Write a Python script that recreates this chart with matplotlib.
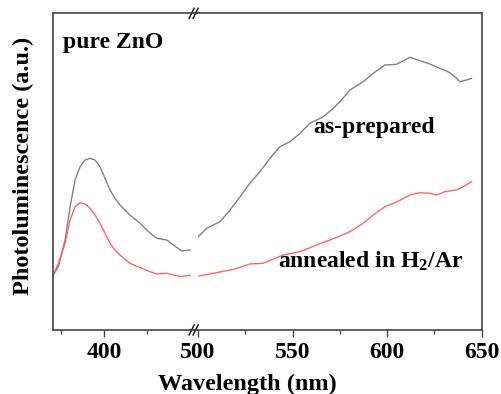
import matplotlib
matplotlib.use("Agg")
import matplotlib.pyplot as plt
from matplotlib.ticker import FixedLocator

plt.rcParams['font.family'] = ['Liberation Serif', 'DejaVu Serif']
plt.rcParams['font.weight'] = 'bold'
plt.rcParams['mathtext.fontset'] = 'custom'
plt.rcParams['mathtext.rm'] = 'Liberation Serif:bold'
plt.rcParams['mathtext.it'] = 'Liberation Serif:bold'
plt.rcParams['mathtext.bf'] = 'Liberation Serif:bold'

# ---- data (wavelength in nm, PL intensity in a.u.) ----
wl_left = [370.3, 373.3, 377.2, 380.1, 383.0, 385.9, 388.8, 391.7, 394.6, 397.5,
           400.4, 403.3, 406.2, 409.1, 414.9, 420.8, 426.6, 430.5, 436.3, 440.1,
           445.0, 449.8]
asprep_left = [55, 63.3, 90, 123.3, 150, 163.3, 170, 171.7, 170, 163.3,
               151.7, 140, 131.7, 125, 115, 106.7, 96.7, 91.7, 90, 85,
               79, 80]
anneal_left = [55, 66.7, 86.7, 110, 123.3, 127.3, 126, 121.7, 115, 106.7,
               96.7, 86.7, 80, 75, 66.7, 62.3, 58.3, 56, 56.7, 55,
               53.3, 55]

wl_asprep_right = [500.1, 504.5, 511.6, 516.9, 522.2, 527.4, 532.7, 538.0, 543.3, 548.6,
                   553.9, 559.1, 566.2, 571.5, 575.0, 580.3, 587.3, 592.6, 598.8, 605.0,
                   612.0, 617.3, 622.6, 627.9, 632.2, 635.8, 638.4, 642.0, 644.6]
asprep_right = [93.3, 101.7, 108.3, 120, 133.3, 146.7, 158.3, 171.7, 183.3, 188.3,
                196.7, 206.7, 213.3, 221.7, 228.3, 240, 248.3, 256.7, 265, 265.7,
                272.7, 269.3, 266, 261.7, 258.3, 253.3, 248.3, 250, 251.7]

wl_anneal_right = [500.5, 511.6, 519.5, 527.4, 534.5, 545.0, 553.9, 562.7, 569.7, 575.0,
                   580.3, 587.3, 592.6, 598.8, 605.0, 612.0, 617.3, 622.6, 626.1, 630.5,
                   636.7, 640.2, 644.6]
anneal_right = [54, 58, 61, 66, 66.7, 75, 78.3, 85, 90, 94,
                98.3, 106.7, 115, 123.3, 128, 135, 137.3, 136.7, 135, 138.3,
                140, 143.3, 148.3]

xlim_left = (370, 454.5)
xlim_right = (500, 650)
major_left = [400]
minor_left = [375, 425]
major_right = [500, 550, 600, 650]
minor_right = [525, 575, 625]

gray = '#808080'
red = '#ff6666'
spine_c = '#444444'

W, H = 501, 394
fig = plt.figure(figsize=(W / 100, H / 100), dpi=100)

x0, x_break, x1 = 52.7, 198.1, 481.7
y_top, y_bot = 13.3, 330.0
bottom = (H - y_bot) / H
height = (y_bot - y_top) / H
axL = fig.add_axes([x0 / W, bottom, (x_break - x0) / W, height])
axR = fig.add_axes([x_break / W, bottom, (x1 - x_break) / W, height])

for ax in (axL, axR):
    ax.set_ylim(0, 316.7)
    ax.set_yticks([])
    for s in ax.spines.values():
        s.set_color(spine_c)
        s.set_linewidth(1.2)
    ax.tick_params(axis='x', which='major', direction='out', length=5, width=1,
                   color=spine_c, labelsize=17, pad=4)
    ax.tick_params(axis='x', which='minor', direction='out', length=3, width=1,
                   color=spine_c)

axL.spines['right'].set_visible(False)
axR.spines['left'].set_visible(False)

axL.plot(wl_left, asprep_left, color=gray, lw=1.0)
axL.plot(wl_left, anneal_left, color=red, lw=1.0)
axR.plot(wl_asprep_right, asprep_right, color=gray, lw=1.0)
axR.plot(wl_anneal_right, anneal_right, color=red, lw=1.0)

axL.set_xlim(*xlim_left)
axR.set_xlim(*xlim_right)
axL.xaxis.set_major_locator(FixedLocator(major_left))
axL.xaxis.set_minor_locator(FixedLocator(minor_left))
axR.xaxis.set_major_locator(FixedLocator(major_right))
axR.xaxis.set_minor_locator(FixedLocator(minor_right))

# break marks "//"
for yy in (y_top, y_bot):
    for dx in (-4.5, -0.5):
        xc = x_break - 2 + dx
        fig.add_artist(plt.Line2D([(xc - 2.5) / W, (xc + 2.5) / W],
                                  [(H - yy - 5) / H, (H - yy + 5) / H],
                                  color='#222222', lw=1.1))

fig.text(63 / W, (H - 48) / H, 'pure ZnO', fontsize=17, fontweight='bold',
         va='baseline', ha='left')
fig.text(313 / W, (H - 133) / H, 'as-prepared', fontsize=17, fontweight='bold',
         va='baseline', ha='left')
fig.text(278 / W, (H - 268) / H, r'annealed in H$_2$/Ar', fontsize=17,
         fontweight='bold', va='baseline', ha='left')

fig.text(23 / W, (H - 166) / H, 'Photoluminescence (a.u.)', fontsize=17.5,
         fontweight='bold', rotation=90, va='center', ha='center')
fig.text(247.5 / W, (H - 390) / H, 'Wavelength (nm)', fontsize=17.5,
         fontweight='bold', va='baseline', ha='center')

fig.savefig('out.png', dpi=100)
